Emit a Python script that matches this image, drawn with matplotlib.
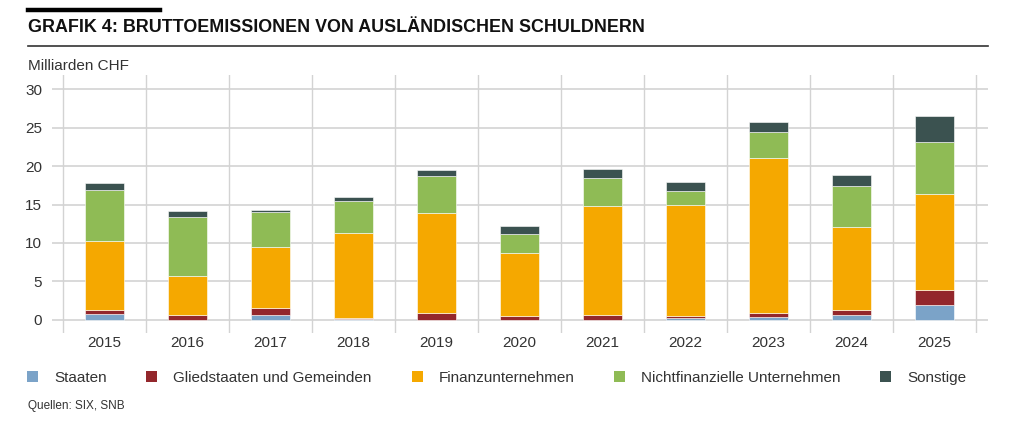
import numpy as np
import matplotlib.pyplot as plt
from matplotlib.patches import Patch
from matplotlib.lines import Line2D

plt.rcParams['font.family'] = ['Liberation Sans', 'DejaVu Sans']

# Daten (Milliarden CHF)
jahre = ['2015', '2016', '2017', '2018', '2019', '2020', '2021', '2022', '2023', '2024', '2025']
staaten = [0.8, 0.0, 0.6, 0.1, 0.0, 0.0, 0.0, 0.3, 0.4, 0.6, 1.95]
gliedstaaten = [0.5, 0.65, 1.0, 0.15, 0.95, 0.48, 0.65, 0.18, 0.5, 0.74, 1.95]
finanz = [8.9, 5.0, 7.9, 11.05, 12.96, 8.19, 14.17, 14.4, 20.2, 10.7, 12.4]
nichtfinanz = [6.7, 7.7, 4.47, 4.2, 4.77, 2.47, 3.68, 1.87, 3.3, 5.38, 6.76]
sonstige = [0.95, 0.85, 0.35, 0.45, 0.78, 1.04, 1.14, 1.13, 1.26, 1.38, 3.47]

serien = [staaten, gliedstaaten, finanz, nichtfinanz, sonstige]
namen = ['Staaten', 'Gliedstaaten und Gemeinden', 'Finanzunternehmen',
         'Nichtfinanzielle Unternehmen', 'Sonstige']
farben = ['#7BA3C8', '#93272C', '#F5A800', '#8FBB55', '#3B5250']

W, H = 1024, 430
fig = plt.figure(figsize=(W / 100, H / 100), dpi=100)


def fx(px):
    return px / W


def fy(py):
    return 1 - py / H


# Achse: links 52 px, rechts 988 px, oben 75 px, unten 333 px
ax = fig.add_axes([fx(52), fy(333), fx(988 - 52), (333 - 75) / H])
x = np.arange(len(jahre))
unten = np.zeros(len(jahre))
for werte, farbe in zip(serien, farben):
    ax.bar(x, werte, 0.46, bottom=unten, color=farbe, edgecolor='white', linewidth=0.4, zorder=3)
    unten += np.array(werte)

ax.set_xlim(-0.633, 10.645)
ax.set_ylim(-1.69, 31.82)
ax.set_yticks(range(0, 31, 5))
ax.set_xticks(x)
ax.set_xticklabels(jahre)
for xv in np.arange(-0.5, 11, 1):
    ax.axvline(xv, color='#D3D3D3', lw=1, zorder=1)
for yv in range(0, 31, 5):
    ax.axhline(yv, color='#D3D3D3', lw=1.2, zorder=1)
for s in ax.spines.values():
    s.set_visible(False)
ax.tick_params(length=0, labelsize=11, colors='#333333')
ax.tick_params(axis='y', pad=7)
ax.tick_params(axis='x', pad=2)

# Titel und Linien
fig.add_artist(Line2D([fx(28), fx(160)], [fy(10), fy(10)], color='black', lw=3.2))
fig.add_artist(Line2D([fx(28), fx(988)], [fy(46), fy(46)], color='#333333', lw=1.2))
fig.text(fx(28), fy(28), 'GRAFIK 4: BRUTTOEMISSIONEN VON AUSLÄNDISCHEN SCHULDNERN',
         fontsize=12.9, fontweight='bold', va='center', ha='left', color='#111111')
fig.text(fx(28), fy(66), 'Milliarden CHF', fontsize=11, va='center', ha='left', color='#333333')
fig.text(fx(28), fy(406), 'Quellen: SIX, SNB', fontsize=8.5, va='center', ha='left', color='#333333')

handles = [Patch(facecolor=f, edgecolor='none') for f in farben]
fig.legend(handles, namen, ncol=5, loc='center left', bbox_to_anchor=(fx(27), fy(378)),
           frameon=False, fontsize=11, handlelength=0.72, handleheight=0.72,
           handletextpad=1.05, columnspacing=2.6, labelcolor='#333333',
           borderpad=0, borderaxespad=0)

plt.savefig('out.png', dpi=100)
